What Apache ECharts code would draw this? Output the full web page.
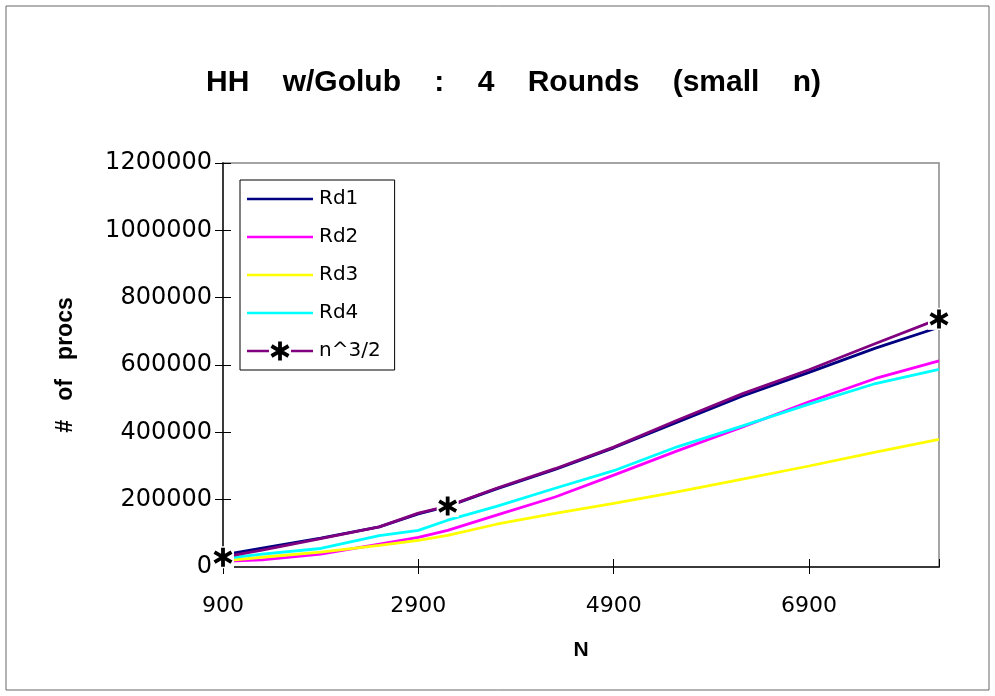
<!DOCTYPE html>
<html>
<head>
<meta charset="utf-8">
<script src="https://cdn.jsdelivr.net/npm/echarts@6/dist/echarts.min.js"></script>
<style>
html,body{margin:0;padding:0;background:#fff;}
#chart{width:995px;height:696px;}
</style>
</head>
<body>
<div id="chart"></div>
<script>
// ---- data ----
const N = [900, 1300, 1900, 2500, 2900, 3200, 3700, 4300, 4900, 5550, 6220, 6900, 7580, 8230];
const rd1 = [36000, 56000, 86000, 119000, 158000, 180000, 232000, 290000, 354000, 430000, 508000, 578000, 650000, 712000];
const rd2 = [17000, 21000, 38000, 68000, 88000, 109000, 154000, 208000, 273000, 345000, 416000, 491000, 560000, 612000];
const rd3 = [18000, 29000, 44000, 64000, 79000, 94000, 127000, 159000, 189000, 223000, 261000, 300000, 341000, 379000];
const rd4 = [25000, 38000, 55000, 93000, 109000, 139000, 180000, 234000, 286000, 357000, 419000, 484000, 545000, 587000];
const n32 = [29000, 50000, 84000, 119000, 160000, 181000, 234000, 292000, 356000, 436000, 515000, 586000, 664000, 737000];
const markerIdx = [0, 5, 13];
const seriesNames = ['Rd1', 'Rd2', 'Rd3', 'Rd4', 'n^3/2'];
const seriesColors = ['#000080', '#FF00FF', '#FFFF00', '#00FFFF', '#800080'];
const xTicks = {min: 900, max: 8230, interval: 2000};
const yTicks = {min: 0, max: 1200000, interval: 200000};

const FONT = '"Liberation Sans", Arial, Helvetica, sans-serif';
const NUMFONT = '"DejaVu Sans", "Liberation Sans", sans-serif';

function starSvg(w, h, withLine) {
  const cx = w / 2, cy = h / 2;
  let s = "<svg xmlns='http://www.w3.org/2000/svg' width='" + w + "' height='" + h + "'>";
  if (withLine) {
    s += "<path d='M0 " + cy + "H" + (cx - 11) + "M" + (cx + 11) + " " + cy + "H" + w + "' stroke='#800080' stroke-width='2.6'/>";
  } else {
    s += "<rect x='" + (cx - 11) + "' y='" + (cy - 11) + "' width='22' height='22' fill='white'/>";
  }
  s += "<path d='M" + cx + " " + (cy - 9.5) + "V" + (cy + 9.5) +
       "M" + (cx - 8.5) + " " + (cy - 5) + "L" + (cx + 8.5) + " " + (cy + 5) +
       "M" + (cx - 8.5) + " " + (cy + 5) + "L" + (cx + 8.5) + " " + (cy - 5) +
       "' stroke='black' stroke-width='3.8' fill='none'/></svg>";
  return 'image://data:image/svg+xml;charset=utf-8,' + encodeURIComponent(s);
}
const starSymbol = starSvg(26, 26, false);
const starLegend = starSvg(66, 22, true);
const lineIcon = 'path://M0 0H0.01V0.01H0ZM0 9.7H66V12.3H0ZM0 21.99H0.01V22H0Z';

function pairs(vals) { return N.map((n, i) => [n, vals[i]]); }

const allVals = [rd1, rd2, rd3, rd4, n32];
const series = allVals.map((vals, si) => {
  const isStar = si === 4;
  return {
    name: seriesNames[si],
    type: 'line',
    symbol: isStar ? starSymbol : 'none',
    symbolSize: 26,
    showSymbol: isStar,
    z: 2 + si,
    lineStyle: {color: seriesColors[si], width: 2.8},
    itemStyle: {color: seriesColors[si]},
    animation: false,
    data: isStar
      ? pairs(vals).map((p, i) => markerIdx.includes(i) ? {value: p} : {value: p, symbol: 'none'})
      : pairs(vals)
  };
});

const chart = echarts.init(document.getElementById('chart'), null, {renderer: 'canvas'});
const axisBase = {
  type: 'value',
  splitLine: {show: false},
  axisLine: {show: true, lineStyle: {color: '#333', width: 1.5}},
};
chart.setOption({
  backgroundColor: '#fff',
  animation: false,
  title: {
    text: 'HH    w/Golub    :    4    Rounds    (small    n)',
    left: 201,
    top: 63,
    textStyle: {fontFamily: FONT, fontWeight: 'bold', fontSize: 30, color: '#000'}
  },
  legend: {
    orient: 'vertical',
    left: 240, top: 180,
    padding: [8, 14, 8, 7],
    borderColor: '#000', borderWidth: 1,
    itemWidth: 66, itemHeight: 22,
    itemGap: 16,
    textStyle: {fontFamily: NUMFONT, fontSize: 20, color: '#000', padding: [0, 0, 0, 1]},
    data: seriesNames.map((n, i) => ({name: n, icon: i === 4 ? starLegend : lineIcon})),
    selectedMode: false
  },
  grid: {left: 223, right: 56, top: 163, bottom: 129, containLabel: false,
         show: true, borderColor: '#888', borderWidth: 1.5},
  xAxis: [
    Object.assign({}, axisBase, {
      min: xTicks.min, max: xTicks.max, interval: xTicks.interval,
      name: 'N', nameLocation: 'middle', nameGap: 73,
      nameTextStyle: {fontFamily: FONT, fontWeight: 'bold', fontSize: 21, color: '#000'},
      axisTick: {show: true, length: 7, lineStyle: {color: '#000'}},
      axisLabel: {showMaxLabel: false, margin: 28, fontFamily: NUMFONT, fontSize: 22, color: '#000',
                  formatter: v => String(v)}
    }),
    Object.assign({}, axisBase, {
      position: 'bottom',
      min: xTicks.min, max: xTicks.max, interval: xTicks.interval,
      axisTick: {show: true, inside: true, length: 8, lineStyle: {color: '#000'}},
      axisLabel: {show: false}
    })
  ],
  yAxis: [
    Object.assign({}, axisBase, {
      min: yTicks.min, max: yTicks.max, interval: yTicks.interval,
      name: '#   of   procs', nameLocation: 'middle', nameGap: 146, nameRotate: 90,
      nameTextStyle: {fontFamily: FONT, fontWeight: 'bold', fontSize: 23, color: '#000'},
      axisTick: {show: true, length: 8, lineStyle: {color: '#000'}},
      axisLabel: {margin: 11, fontFamily: NUMFONT, fontSize: 24, color: '#000',
                  formatter: v => String(v)}
    }),
    Object.assign({}, axisBase, {
      position: 'left',
      min: yTicks.min, max: yTicks.max, interval: yTicks.interval,
      axisTick: {show: true, inside: true, length: 8, lineStyle: {color: '#000'}},
      axisLabel: {show: false}
    })
  ],
  graphic: [{
    type: 'rect', shape: {x: 6, y: 6, width: 983, height: 684},
    style: {fill: 'none', stroke: '#666', lineWidth: 1}, silent: true, z: -10
  }],
  series: series
});
</script>
</body>
</html>
